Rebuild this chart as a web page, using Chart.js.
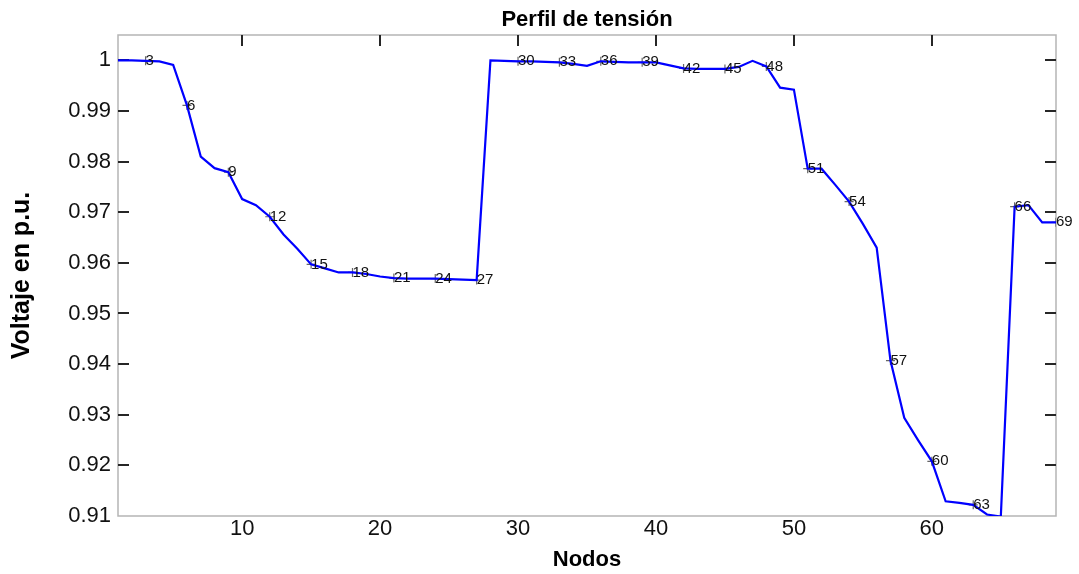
<!DOCTYPE html>
<html><head><meta charset="utf-8">
<script src="https://cdn.jsdelivr.net/npm/chart.js@4.4.1/dist/chart.umd.min.js"></script>
<style>html,body{margin:0;padding:0;background:#fff;overflow:hidden}</style>
</head><body>
<canvas id="c" width="1079" height="574"></canvas>
<script>
const nodes = [1,2,3,4,5,6,7,8,9,10,11,12,13,14,15,16,17,18,19,20,21,22,23,24,25,26,27,28,29,30,31,32,33,34,35,36,37,38,39,40,41,42,43,44,45,46,47,48,49,50,51,52,53,54,55,56,57,58,59,60,61,62,63,64,65,66,67,68,69];
const voltages = [1.0000,1.0000,0.9999,0.9998,0.9991,0.9911,0.9810,0.9787,0.9779,0.9726,
  0.9714,0.9691,0.9656,0.9628,0.9597,0.9589,0.9581,0.9581,0.9578,0.9573,
  0.9570,0.9569,0.9569,0.9569,0.9568,0.9567,0.9566,1.0000,0.9999,0.9998,
  0.9998,0.9997,0.9996,0.9993,0.9989,0.9998,0.9997,0.9996,0.9996,0.9996,
  0.9990,0.9984,0.9983,0.9983,0.9983,0.9987,0.9999,0.9988,0.9946,0.9942,
  0.9786,0.9786,0.9754,0.9721,0.9677,0.9630,0.9407,0.9294,0.9250,0.9208,
  0.9129,0.9126,0.9122,0.9103,0.9099,0.9711,0.9714,0.9680,0.9680];
const labeledNodes = [3,6,9,12,15,18,21,24,27,30,33,36,39,42,45,48,51,54,57,60,63,66,69];
const xTicks = [10,20,30,40,50,60];
const yTicks = [0.91,0.92,0.93,0.94,0.95,0.96,0.97,0.98,0.99,1.00];
const titleText = 'Perfil de tensión';
const xTitleText = 'Nodos';
const yTitleText = 'Voltaje en p.u.';

const lineData = nodes.map((n, i) => ({x: n, y: voltages[i]}));
const markerData = labeledNodes.map(n => ({x: n, y: voltages[nodes.indexOf(n)]}));

const framePlugin = {
  id: 'frame',
  beforeDatasetsDraw(chart) {
    const {ctx, chartArea: a, scales: {x, y}} = chart;
    ctx.save();
    ctx.strokeStyle = '#b5b5b5';
    ctx.lineWidth = 1.5;
    ctx.strokeRect(a.left, a.top, a.right - a.left, a.bottom - a.top);
    ctx.strokeStyle = '#262626';
    ctx.lineWidth = 2;
    const tl = 11;
    ctx.beginPath();
    xTicks.forEach(v => {
      const px = Math.round(x.getPixelForValue(v));
      ctx.moveTo(px, a.top); ctx.lineTo(px, a.top + tl);
    });
    yTicks.forEach(v => {
      if (v <= 0.91) return;
      const py = Math.round(y.getPixelForValue(v));
      ctx.moveTo(a.left, py); ctx.lineTo(a.left + tl, py);
      ctx.moveTo(a.right, py); ctx.lineTo(a.right - tl, py);
    });
    ctx.stroke();
    ctx.restore();
  },
  afterDraw(chart) {
    const {ctx, chartArea: a} = chart;
    ctx.save();
    ctx.fillStyle = '#000';
    ctx.font = 'bold 22px "Liberation Sans", Arial, sans-serif';
    ctx.textAlign = 'center';
    ctx.textBaseline = 'middle';
    ctx.fillText(titleText, (a.left + a.right) / 2, 20);
    ctx.restore();
  }
};

const labelPlugin = {
  id: 'nodeLabels',
  afterDatasetsDraw(chart) {
    const {ctx, scales: {x, y}} = chart;
    ctx.save();
    ctx.fillStyle = '#111';
    ctx.font = '15px "Liberation Sans", Arial, sans-serif';
    ctx.textAlign = 'left';
    ctx.textBaseline = 'middle';
    markerData.forEach(p => {
      ctx.fillText(String(p.x), x.getPixelForValue(p.x), y.getPixelForValue(p.y));
    });
    ctx.restore();
  }
};

new Chart(document.getElementById('c'), {
  type: 'line',
  data: {
    datasets: [
      {data: lineData, borderColor: '#0000ff', borderWidth: 2.2, pointRadius: 0, tension: 0, fill: false},
      {data: markerData, showLine: false, pointStyle: 'cross', pointRadius: 4.5,
       pointBorderColor: '#666', pointBorderWidth: 1.2, borderColor: '#666'}
    ]
  },
  options: {
    responsive: false,
    animation: false,
    devicePixelRatio: 1,
    events: [],
    layout: {padding: {top: 35, right: 23, bottom: 0, left: 0}},
    plugins: {legend: {display: false}, tooltip: {enabled: false}, title: {display: false}},
    scales: {
      x: {
        type: 'linear', min: 1, max: 69,
        afterBuildTicks: s => { s.ticks = xTicks.map(v => ({value: v})); },
        afterFit: s => { s.height = 58; },
        grid: {display: false, drawTicks: false},
        border: {display: false},
        ticks: {font: {family: '"Liberation Sans", Arial, sans-serif', size: 22}, color: '#111',
                padding: 0, maxRotation: 0, autoSkip: false, callback: v => String(v)},
        title: {display: true, text: xTitleText, color: '#000',
                font: {family: '"Liberation Sans", Arial, sans-serif', size: 22, weight: 'bold'},
                padding: {top: 0, bottom: 1}}
      },
      y: {
        type: 'linear', min: 0.91, max: 1.005,
        afterBuildTicks: s => { s.ticks = yTicks.map(v => ({value: v})); },
        afterFit: s => { s.width = 118; },
        grid: {display: false, drawTicks: false},
        border: {display: false},
        ticks: {font: {family: '"Liberation Sans", Arial, sans-serif', size: 22}, color: '#111',
                padding: 7, autoSkip: false, callback: v => String(parseFloat(Number(v).toFixed(2)))},
        title: {display: true, text: yTitleText, color: '#000',
                font: {family: '"Liberation Sans", Arial, sans-serif', size: 25, weight: 'bold'},
                padding: {top: 7, bottom: 0}}
      }
    }
  },
  plugins: [framePlugin, labelPlugin]
});
</script>
</body></html>
